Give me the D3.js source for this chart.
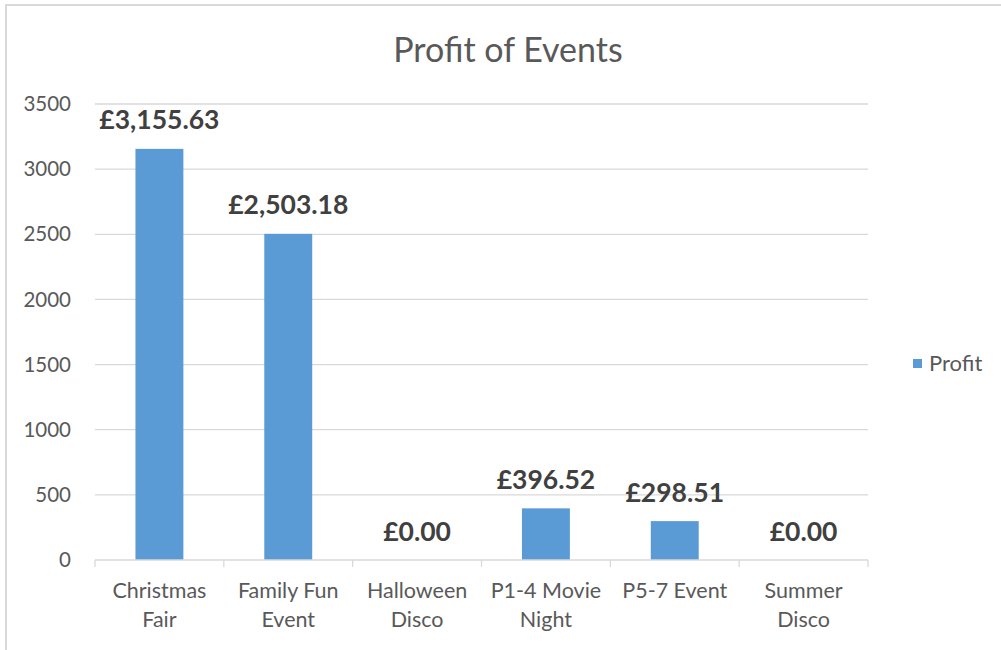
<!DOCTYPE html>
<html>
<head>
<meta charset="utf-8">
<script src="https://cdn.jsdelivr.net/npm/d3@7"></script>
<style>
  body { margin: 0; background: #fff; }
  svg { display: block; font-family: Lato, "Open Sans", sans-serif; }
</style>
</head>
<body>
<div id="chart"></div>
<script>
// chart data
const categories = [["Christmas", "Fair"], ["Family Fun", "Event"], ["Halloween", "Disco"],
                    ["P1-4 Movie", "Night"], ["P5-7 Event"], ["Summer", "Disco"]];
const profit = [3155.63, 2503.18, 0, 396.52, 298.51, 0];
const yTicks = [0, 500, 1000, 1500, 2000, 2500, 3000, 3500];
const seriesName = "Profit";

const width = 1001, height = 650;
const plot = {left: 95, right: 868, top: 104, bottom: 560};
const grey = "#d9d9d9", textCol = "#595959", barCol = "#5b9bd5";

const svg = d3.select("#chart").append("svg")
  .attr("width", width)
  .attr("height", height);

// chart frame (runs off the right and bottom of the picture)
svg.append("rect")
  .attr("x", 6).attr("y", 5)
  .attr("width", width + 20).attr("height", height + 20)
  .attr("fill", "none")
  .attr("stroke", grey)
  .attr("stroke-width", 2);

svg.append("text")
  .attr("x", 508).attr("y", 62)
  .attr("text-anchor", "middle")
  .attr("fill", textCol)
  .style("font-size", "34px")
  .text("Profit of Events");

const keys = categories.map(c => c.join(" "));

const x = d3.scaleBand()
  .domain(keys)
  .range([plot.left, plot.right])
  .paddingInner(0.628)
  .paddingOuter(0.314);

const y = d3.scaleLinear()
  .domain([0, 3500])
  .range([plot.bottom, plot.top]);

// gridlines
svg.append("g")
  .selectAll("line")
  .data(yTicks.slice(1))
  .join("line")
  .attr("x1", plot.left).attr("x2", plot.right)
  .attr("y1", d => y(d)).attr("y2", d => y(d))
  .attr("stroke", grey)
  .attr("stroke-width", 1.3);

// y tick labels
svg.append("g")
  .selectAll("text")
  .data(yTicks)
  .join("text")
  .attr("x", 71)
  .attr("y", d => y(d))
  .attr("dy", "0.35em")
  .attr("text-anchor", "end")
  .attr("fill", textCol)
  .style("font-size", "20.5px")
  .text(d => d);

// bars
svg.append("g")
  .selectAll("rect")
  .data(profit)
  .join("rect")
  .attr("x", (d, i) => x(keys[i]))
  .attr("width", x.bandwidth())
  .attr("y", d => y(d))
  .attr("height", d => y(0) - y(d))
  .attr("fill", barCol);

// x axis line and tick marks between categories
const step = x.step();
svg.append("line")
  .attr("x1", plot.left).attr("x2", plot.right)
  .attr("y1", plot.bottom).attr("y2", plot.bottom)
  .attr("stroke", grey)
  .attr("stroke-width", 1.3);

svg.append("g")
  .selectAll("line")
  .data(d3.range(keys.length + 1))
  .join("line")
  .attr("x1", i => plot.left + i * step).attr("x2", i => plot.left + i * step)
  .attr("y1", plot.bottom).attr("y2", plot.bottom + 7)
  .attr("stroke", grey)
  .attr("stroke-width", 1.3);

// category labels (two lines)
const catLabels = svg.append("g")
  .selectAll("text")
  .data(categories)
  .join("text")
  .attr("x", (d, i) => x(keys[i]) + x.bandwidth() / 2)
  .attr("y", 598)
  .attr("text-anchor", "middle")
  .attr("fill", textCol)
  .style("font-size", "21.5px");

catLabels.selectAll("tspan")
  .data(d => d)
  .join("tspan")
  .attr("x", function() { return this.parentNode.getAttribute("x"); })
  .attr("dy", (d, j) => j === 0 ? 0 : 28.5)
  .text(d => d);

// data labels
const fmt = d3.format(",.2f");
svg.append("g")
  .selectAll("text")
  .data(profit)
  .join("text")
  .attr("x", (d, i) => x(keys[i]) + x.bandwidth() / 2)
  .attr("y", d => y(d) - 19.5)
  .attr("text-anchor", "middle")
  .attr("fill", "#404040")
  .style("font-size", "26.5px")
  .style("font-weight", "bold")
  .text(d => "£" + fmt(d));

// legend
const legend = svg.append("g").attr("transform", "translate(913, 359)");
legend.append("rect")
  .attr("width", 9).attr("height", 9)
  .attr("fill", barCol);
legend.append("text")
  .attr("x", 16).attr("y", 4.5)
  .attr("dy", "0.35em")
  .attr("fill", textCol)
  .style("font-size", "22px")
  .text(seriesName);
</script>
</body>
</html>
